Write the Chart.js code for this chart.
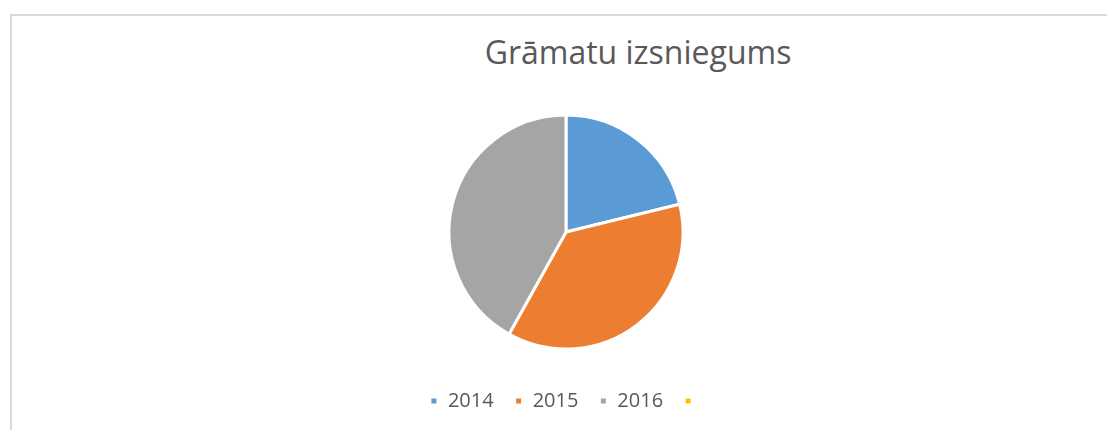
<!DOCTYPE html>
<html>
<head>
<meta charset="utf-8">
<script src="https://cdn.jsdelivr.net/npm/chart.js@4"></script>
<style>
  html, body { margin: 0; padding: 0; background: #fff; }
  body { width: 1107px; height: 430px; position: relative; overflow: hidden; }
  #frame { position: absolute; left: 10px; top: 14px; width: 1200px; height: 500px;
           border-left: 2px solid #d9d9d9; border-top: 2px solid #d9d9d9; }
  #title { position: absolute; left: 0; width: 1276px; top: 30px; text-align: center;
           font-family: "Open Sans", sans-serif; font-size: 32px; color: #595959; line-height: 44px; }
  #wrap { position: absolute; left: 10px; top: 0; }
</style>
</head>
<body>
<div id="frame"></div>
<div id="title">Grāmatu izsniegums</div>
<div id="wrap"><canvas id="pie" width="1112" height="430"></canvas></div>
<script>
// chart data
const years = ['2014', '2015', '2016', ''];
const loans = [212, 369, 419, 0];
const colors = ['#5b9bd5', '#ed7d31', '#a5a5a5', '#ffc000'];

const ctx = document.getElementById('pie').getContext('2d');
new Chart(ctx, {
  type: 'pie',
  data: {
    labels: years,
    datasets: [{
      data: loans,
      backgroundColor: colors,
      borderColor: '#ffffff',
      borderWidth: 3,
      radius: 117
    }]
  },
  options: {
    responsive: false,
    animation: false,
    events: [],
    layout: { padding: { top: 94, bottom: 9 } },
    plugins: {
      title: { display: false },
      tooltip: { enabled: false },
      legend: {
        position: 'bottom',
        labels: {
          boxWidth: 8,
          boxHeight: 8,
          padding: 21,
          color: '#595959',
          font: { family: 'Open Sans', size: 20 }
        }
      }
    }
  }
});
</script>
</body>
</html>
